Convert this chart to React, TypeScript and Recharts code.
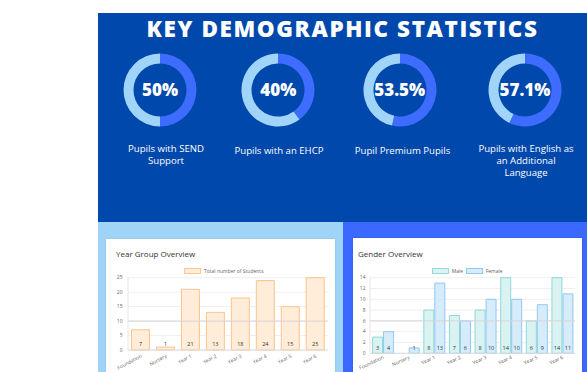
import React from "react";
import {
  PieChart,
  Pie,
  Cell,
  BarChart,
  Bar,
  XAxis,
  YAxis,
  CartesianGrid,
  LabelList,
  ReferenceLine,
} from "recharts";

// ---------- data ----------
const statValues = [50, 40, 53.5, 57.1];
const statDisplay = ["50%", "40%", "53.5%", "57.1%"];
const statLabelLines = [
  ["Pupils with SEND", "Support"],
  ["Pupils with an EHCP"],
  ["Pupil Premium Pupils"],
  ["Pupils with English as", "an Additional", "Language"],
];

const yearGroups = [
  "Foundation",
  "Nursery",
  "Year 1",
  "Year 2",
  "Year 3",
  "Year 4",
  "Year 5",
  "Year 6",
];
const totalStudents = [7, 1, 21, 13, 18, 24, 15, 25];
const maleStudents = [3, 0, 8, 7, 8, 14, 6, 14];
const femaleStudents = [4, 1, 13, 6, 10, 10, 9, 11];

const totalTicks = [0, 5, 10, 15, 20, 25];
const genderTicks = [0, 2, 4, 6, 8, 10, 12, 14];

// ---------- layout / style ----------
const donutCentersX = [160, 278.3, 399.7, 525];
const labelCentersX = [166, 279, 402.5, 526];
const labelTops = [142.5, 144.5, 144.5, 142.5];
const donutCenterY = 89.7;

const RING_DARK = "#3d6cff";
const RING_LIGHT = "#a0d4f8";
const FONT = "'Open Sans', 'DejaVu Sans', sans-serif";

const totalData = yearGroups.map((g, i) => ({ name: g, total: totalStudents[i] }));
const genderData = yearGroups.map((g, i) => ({
  name: g,
  male: maleStudents[i],
  female: femaleStudents[i],
}));

const hideZero = (v: any) => (v === 0 ? "" : v);

function Donut({ idx }: { idx: number }) {
  const v = statValues[idx];
  const data = [
    { name: "value", value: v },
    { name: "rest", value: 100 - v },
  ];
  const size = 78;
  return (
    <div
      style={{
        position: "absolute",
        left: donutCentersX[idx] - size / 2,
        top: donutCenterY - size / 2,
        width: size,
        height: size,
      }}
    >
      <PieChart width={size} height={size} margin={{ top: 0, right: 0, bottom: 0, left: 0 }}>
        <Pie
          data={data}
          dataKey="value"
          cx="50%"
          cy="50%"
          innerRadius={26.5}
          outerRadius={36.5}
          startAngle={90}
          endAngle={-270}
          stroke="none"
          isAnimationActive={false}
        >
          <Cell fill={RING_DARK} />
          <Cell fill={RING_LIGHT} />
        </Pie>
      </PieChart>
      <div
        style={{
          position: "absolute",
          left: 0,
          top: 0,
          width: size,
          height: size,
          display: "flex",
          alignItems: "center",
          justifyContent: "center",
          color: "#fff",
          fontFamily: FONT,
          fontWeight: 800,
          fontSize: 17,
          letterSpacing: 0,
        }}
      >
        {statDisplay[idx]}
      </div>
    </div>
  );
}

function StatLabel({ idx }: { idx: number }) {
  const w = 130;
  return (
    <div
      style={{
        position: "absolute",
        left: labelCentersX[idx] - w / 2,
        top: labelTops[idx],
        width: w,
        textAlign: "center",
        color: "#fff",
        fontFamily: FONT,
        fontSize: 9.6,
        lineHeight: "12px",
      }}
    >
      {statLabelLines[idx].map((l, i) => (
        <div key={i} style={{ height: 12 }}>
          {l}
        </div>
      ))}
    </div>
  );
}

function LegendBox({
  left,
  top,
  fill,
  stroke,
  text,
}: {
  left: number;
  top: number;
  fill: string;
  stroke: string;
  text: string;
}) {
  return (
    <div
      style={{
        position: "absolute",
        left,
        top,
        display: "flex",
        alignItems: "center",
        fontFamily: FONT,
        fontSize: 5,
        color: "#666",
        whiteSpace: "nowrap",
      }}
    >
      <div
        style={{
          width: 15,
          height: 4,
          background: fill,
          border: `1px solid ${stroke}`,
          marginRight: 3,
        }}
      />
      <span>{text}</span>
    </div>
  );
}

const tickStyle = { fontSize: 5, fill: "#666", fontFamily: FONT };
const PAD = 10; // extra room on the left of each chart svg so rotated labels are not clipped

export default function App() {
  return (
    <div
      style={{
        position: "absolute",
        left: 0,
        top: 0,
        width: 587,
        height: 372,
        overflow: "hidden",
        background: "#fff",
      }}
    >
      {/* top panel */}
      <div
        style={{
          position: "absolute",
          left: 98,
          top: 13,
          width: 489,
          height: 209,
          background: "#0048ab",
        }}
      />
      {/* bottom panels */}
      <div
        style={{
          position: "absolute",
          left: 98,
          top: 222,
          width: 245,
          height: 150,
          background: "#9fd4f8",
        }}
      />
      <div
        style={{
          position: "absolute",
          left: 343,
          top: 222,
          width: 244,
          height: 150,
          background: "#3b68ff",
        }}
      />

      {/* title */}
      <div
        style={{
          position: "absolute",
          left: 98,
          top: 16.5,
          width: 489,
          textAlign: "center",
          color: "#fff",
          fontFamily: FONT,
          fontWeight: 800,
          fontSize: 22.5,
          lineHeight: "23px",
          letterSpacing: 1.6,
          whiteSpace: "nowrap",
        }}
      >
        KEY DEMOGRAPHIC STATISTICS
      </div>

      {statValues.map((_, i) => (
        <Donut key={"d" + i} idx={i} />
      ))}
      {statValues.map((_, i) => (
        <StatLabel key={"l" + i} idx={i} />
      ))}

      {/* left card */}
      <div
        style={{
          position: "absolute",
          left: 106,
          top: 239,
          width: 229,
          height: 133,
          background: "#fff",
          boxShadow: "0 0 2px rgba(0,0,0,0.12)",
        }}
      >
        <div
          style={{
            position: "absolute",
            left: 10,
            top: 9,
            fontFamily: FONT,
            fontSize: 8,
            color: "#333",
            whiteSpace: "nowrap",
          }}
        >
          Year Group Overview
        </div>
        <LegendBox
          left={78}
          top={28.5}
          fill="#ffecd9"
          stroke="#ffc890"
          text="Total number of Students"
        />
        <div style={{ position: "absolute", left: -PAD, top: 0 }}>
          <BarChart
            width={229 + PAD}
            height={133}
            data={totalData}
            margin={{ top: 38.7, right: 7.3, bottom: 0, left: PAD }}
            barCategoryGap="14%"
          >
            <CartesianGrid vertical={false} stroke="#efefef" />
            <YAxis
              width={22}
              domain={[0, 25]}
              ticks={totalTicks}
              tick={tickStyle}
              tickLine={false}
              tickSize={0}
              tickMargin={5.5}
              axisLine={{ stroke: "#e6e6e6" }}
              interval={0}
            />
            <XAxis
              dataKey="name"
              height={22}
              tick={tickStyle}
              interval={0}
              angle={-28}
              textAnchor="end"
              tickLine={false}
              tickSize={0}
              tickMargin={4}
              axisLine={{ stroke: "#dcdcdc" }}
            />
            <ReferenceLine y={10} stroke="#d6d6d6" />
            <Bar
              dataKey="total"
              fill="#ffecd9"
              stroke="#ffc38a"
              strokeWidth={1}
              isAnimationActive={false}
            >
              <LabelList
                dataKey="total"
                position="insideBottom"
                offset={4}
                style={{ fontSize: 5.5, fill: "#333", fontFamily: FONT }}
              />
            </Bar>
          </BarChart>
        </div>
      </div>

      {/* right card */}
      <div
        style={{
          position: "absolute",
          left: 353,
          top: 238,
          width: 229,
          height: 134,
          background: "#fff",
          boxShadow: "0 0 2px rgba(0,0,0,0.18)",
        }}
      >
        <div
          style={{
            position: "absolute",
            left: 5,
            top: 10,
            fontFamily: FONT,
            fontSize: 8,
            color: "#333",
            whiteSpace: "nowrap",
          }}
        >
          Gender Overview
        </div>
        <LegendBox left={78.7} top={29.5} fill="#dbf2f2" stroke="#92dada" text="Male" />
        <LegendBox left={112.7} top={29.5} fill="#d7ecfb" stroke="#92caf2" text="Female" />
        <div style={{ position: "absolute", left: -PAD, top: 0 }}>
          <BarChart
            width={229 + PAD}
            height={134}
            data={genderData}
            margin={{ top: 39.7, right: 7, bottom: 0, left: PAD }}
            barCategoryGap="10%"
            barGap={1}
          >
            <CartesianGrid vertical={false} stroke="#efefef" />
            <YAxis
              width={17}
              domain={[0, 14]}
              ticks={genderTicks}
              tick={tickStyle}
              tickLine={false}
              tickSize={0}
              tickMargin={4.5}
              axisLine={{ stroke: "#e6e6e6" }}
              interval={0}
            />
            <XAxis
              dataKey="name"
              height={18.7}
              tick={tickStyle}
              interval={0}
              angle={-25}
              textAnchor="end"
              tickLine={false}
              tickSize={0}
              tickMargin={2}
              axisLine={{ stroke: "#dcdcdc" }}
            />
            <ReferenceLine y={6} stroke="#d6d6d6" />
            <Bar
              dataKey="male"
              fill="#dbf2f2"
              stroke="#8fd8d8"
              strokeWidth={1}
              isAnimationActive={false}
            >
              <LabelList
                dataKey="male"
                position="insideBottom"
                offset={3.5}
                formatter={hideZero}
                style={{ fontSize: 5.5, fill: "#333", fontFamily: FONT }}
              />
            </Bar>
            <Bar
              dataKey="female"
              fill="#d7ecfb"
              stroke="#8fc8f2"
              strokeWidth={1}
              isAnimationActive={false}
            >
              <LabelList
                dataKey="female"
                position="insideBottom"
                offset={3.5}
                formatter={hideZero}
                style={{ fontSize: 5.5, fill: "#333", fontFamily: FONT }}
              />
            </Bar>
          </BarChart>
        </div>
      </div>
    </div>
  );
}
